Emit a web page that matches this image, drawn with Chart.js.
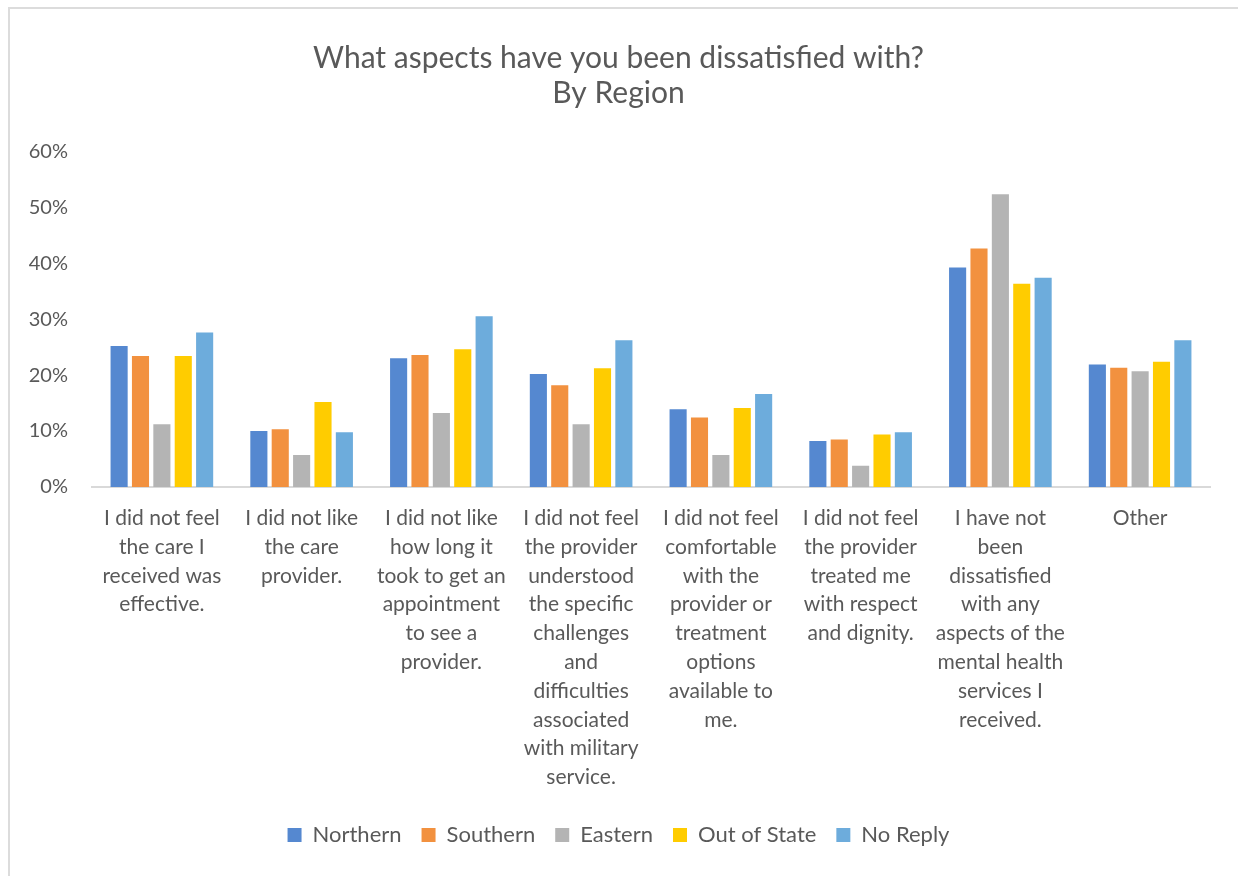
<!DOCTYPE html>
<html>
<head>
<meta charset="utf-8">
<script src="https://cdn.jsdelivr.net/npm/chart.js@4/dist/chart.umd.min.js"></script>
<style>
  html, body { margin: 0; padding: 0; background: #fff; }
  .chart-frame {
    position: absolute;
    left: 8px;
    top: 7px;
    width: 1230px;
    height: 869px;
    border-left: 2px solid #dcdcdc;
    border-top: 2px solid #dcdcdc;
  }
  .chart-frame canvas { display: block; }
</style>
</head>
<body>
<div class="chart-frame">
  <canvas id="dissatisfied-chart" width="1228" height="867"></canvas>
</div>
<script>
const categories = [
  ["I did not feel", "the care I", "received was", "effective."],
  ["I did not like", "the care", "provider."],
  ["I did not like", "how long it", "took to get an", "appointment", "to see a", "provider."],
  ["I did not feel", "the provider", "understood", "the specific", "challenges", "and", "difficulties", "associated", "with military", "service."],
  ["I did not feel", "comfortable", "with the", "provider or", "treatment", "options", "available to", "me."],
  ["I did not feel", "the provider", "treated me", "with respect", "and dignity."],
  ["I have not", "been", "dissatisfied", "with any", "aspects of the", "mental health", "services I", "received."],
  ["Other"],
];

const northern = [25.2, 10.0, 23.0, 20.2, 13.9, 8.2, 39.2, 21.9];
const southern = [23.4, 10.3, 23.6, 18.2, 12.4, 8.5, 42.6, 21.3];
const eastern = [11.2, 5.7, 13.2, 11.2, 5.7, 3.8, 52.3, 20.7];
const outOfState = [23.4, 15.2, 24.6, 21.2, 14.1, 9.4, 36.3, 22.4];
const noReply = [27.6, 9.8, 30.5, 26.2, 16.6, 9.8, 37.4, 26.2];

const yTicks = [0, 10, 20, 30, 40, 50, 60];

const FONT = "Lato, 'Open Sans', sans-serif";
const TEXT = "#595959";

const series = [
  { label: "Northern", data: northern, color: "#5588d0" },
  { label: "Southern", data: southern, color: "#f2913f" },
  { label: "Eastern", data: eastern, color: "#b4b4b4" },
  { label: "Out of State", data: outOfState, color: "#ffcc00" },
  { label: "No Reply", data: noReply, color: "#6dacdc" },
];

const ctx = document.getElementById("dissatisfied-chart").getContext("2d");

new Chart(ctx, {
  type: "bar",
  data: {
    labels: categories,
    datasets: series.map((s) => ({
      label: s.label,
      data: s.data,
      backgroundColor: s.color,
      borderWidth: 0,
      barPercentage: 0.8,
      categoryPercentage: 0.765,
    })),
  },
  options: {
    responsive: false,
    animation: false,
    devicePixelRatio: 1,
    layout: {
      padding: { left: 17, right: 28, top: 22, bottom: 20 },
    },
    plugins: {
      title: {
        display: true,
        text: ["What aspects have you been dissatisfied with?", "By Region"],
        color: TEXT,
        font: { family: FONT, size: 30, weight: "normal", lineHeight: 1.17 },
        padding: { top: 10, bottom: 40 },
      },
      legend: {
        position: "bottom",
        labels: {
          color: TEXT,
          font: { family: FONT, size: 22 },
          boxWidth: 14,
          boxHeight: 14,
          padding: 20,
        },
      },
      tooltip: { enabled: false },
    },
    scales: {
      x: {
        grid: { display: false },
        border: { display: true, color: "#d9d9d9", width: 2 },
        afterFit: (axis) => {
          axis.height = 317;
        },
        ticks: {
          color: TEXT,
          font: { family: FONT, size: 21, lineHeight: 1.37 },
          maxRotation: 0,
          minRotation: 0,
          autoSkip: false,
          padding: 9,
        },
      },
      y: {
        min: 0,
        max: 60,
        afterBuildTicks: (axis) => {
          axis.ticks = yTicks.map((v) => ({ value: v }));
        },
        afterFit: (axis) => {
          axis.width = 65;
        },
        grid: { display: false, drawTicks: false },
        border: { display: false },
        ticks: {
          color: TEXT,
          font: { family: FONT, size: 20 },
          padding: 24,
          callback: (value) => `${value}%`,
        },
      },
    },
  },
});
</script>
</body>
</html>
